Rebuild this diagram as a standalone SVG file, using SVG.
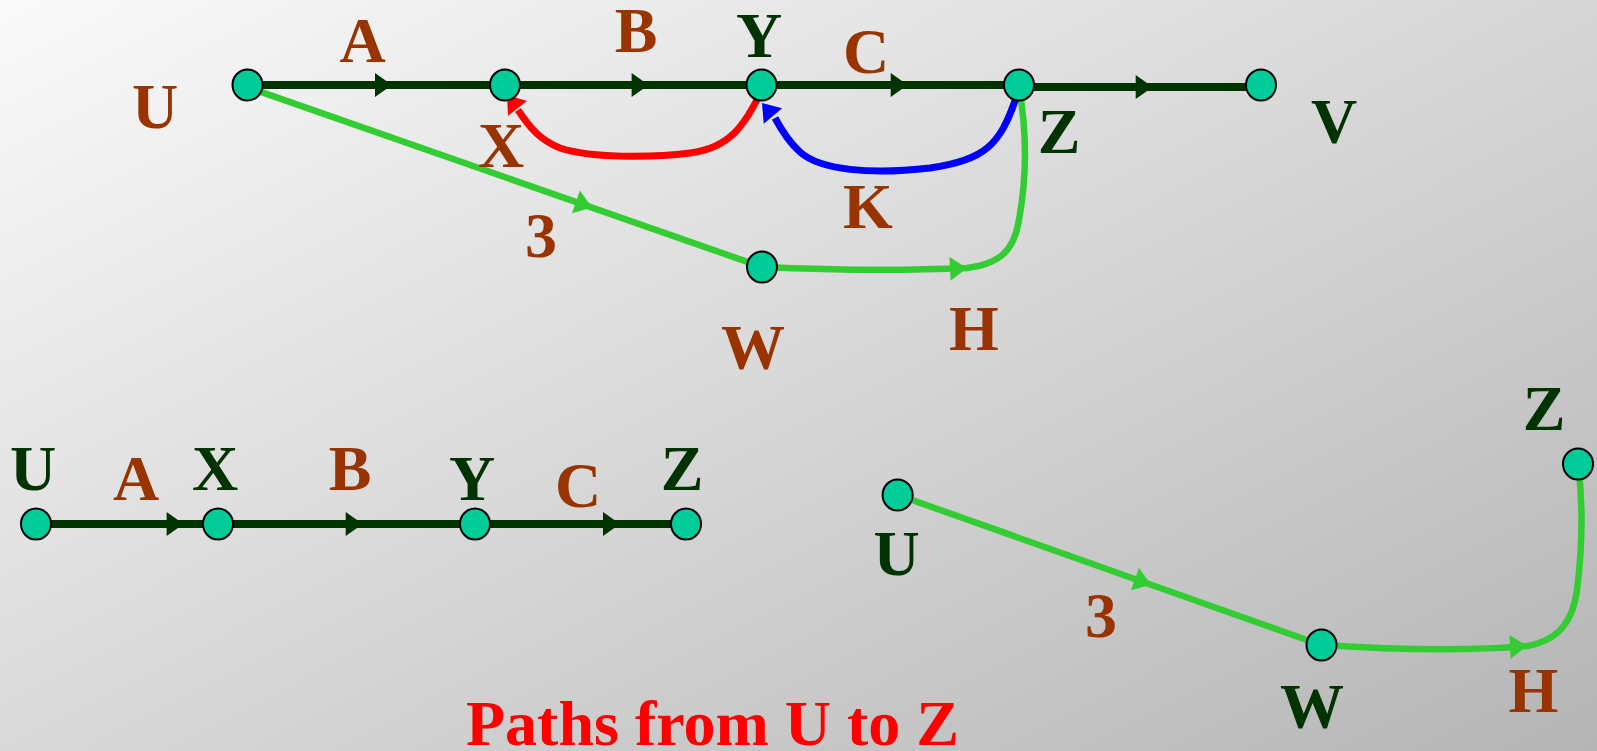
<svg xmlns="http://www.w3.org/2000/svg" width="1597" height="751" viewBox="0 0 1597 751">
<defs>
<linearGradient id="bg" gradientUnits="userSpaceOnUse" x1="0" y1="0" x2="636" y2="1243">
<stop offset="0" stop-color="#fafafa"/>
<stop offset="1" stop-color="#b5b5b5"/>
</linearGradient>
<polygon id="ah" points="-17,-12 0,0 -17,12"/>
<style>
.lbl{font-family:"Liberation Serif","Times New Roman",serif;font-weight:bold;font-size:64px;text-anchor:middle}
.br{fill:#993300}
.dg{fill:#003300}
.node{fill:#00cc99;stroke:#000;stroke-width:2}
.edk{fill:none;stroke:#003300;stroke-width:8}
.egr{fill:none;stroke:#33cc33;stroke-width:6.5}
.ered{fill:none;stroke:#ff0000;stroke-width:7}
.eblu{fill:none;stroke:#0000ff;stroke-width:7}
.adk{fill:#003300}
.agr{fill:#33cc33}
.ared{fill:#ff0000}
.ablu{fill:#0000ff}
</style>
</defs>
<rect x="0" y="0" width="1597" height="751" fill="url(#bg)"/>
<g id="connectors">
<path class="edk" d="M247,85 L1019,85"/>
<path class="edk" d="M1019,87 L1261,87"/>
<use href="#ah" class="adk" transform="translate(392,85)"/>
<use href="#ah" class="adk" transform="translate(648.6,85)"/>
<use href="#ah" class="adk" transform="translate(907.7,85)"/>
<use href="#ah" class="adk" transform="translate(1152.7,87)"/>
<path class="egr" d="M247,87 L762,267"/>
<use href="#ah" class="agr" transform="translate(592,207.5) rotate(19.3)"/>
<path class="egr" d="M762,267 C830,270 900,271 967,268 C1000,264 1013,250 1018,225 C1024,195 1030,150 1019,87"/>
<use href="#ah" class="agr" transform="translate(967,268) rotate(-3)"/>
<path class="ered" d="M762,90 C745,125 730,148 690,153 C650,158 590,158 560,148 C540,140 530,128 518,110"/>
<use href="#ah" class="ared" transform="translate(507,95) rotate(-128)"/>
<path class="eblu" d="M1016,98 C1000,145 985,160 930,168 C870,175 820,170 800,152 C790,143 783,133 775,118"/>
<use href="#ah" class="ablu" transform="translate(762,103) rotate(-130)"/>
<path class="edk" d="M36,524 L686,524"/>
<use href="#ah" class="adk" transform="translate(183.6,524)"/>
<use href="#ah" class="adk" transform="translate(362.7,524)"/>
<use href="#ah" class="adk" transform="translate(620,524)"/>
<path class="egr" d="M898,495 L1321,645"/>
<use href="#ah" class="agr" transform="translate(1151,584.7) rotate(19.5)"/>
<path class="egr" d="M1321,645 C1400,650 1470,651 1527,646 C1560,640 1573,620 1577,590 C1582,550 1584,510 1578,464"/>
<use href="#ah" class="agr" transform="translate(1527,646) rotate(-3)"/>
</g>
<g id="top-U"><ellipse class="node" cx="247.5" cy="85" rx="15" ry="15.5"/><text class="lbl br" x="155" y="128">U</text></g>
<g id="top-X"><ellipse class="node" cx="505" cy="85" rx="15" ry="15.5"/><text class="lbl br" x="501" y="167">X</text></g>
<g id="top-Y"><ellipse class="node" cx="761.5" cy="85" rx="15" ry="15.5"/><text class="lbl dg" x="759" y="57">Y</text></g>
<g id="top-Z"><ellipse class="node" cx="1019" cy="85" rx="15" ry="15.5"/><text class="lbl dg" x="1059" y="153">Z</text></g>
<g id="top-V"><ellipse class="node" cx="1261" cy="85" rx="15" ry="15.5"/><text class="lbl dg" x="1334" y="143">V</text></g>
<g id="top-W"><ellipse class="node" cx="762" cy="267" rx="15" ry="15.5"/><text class="lbl br" x="753" y="369">W</text></g>
<g id="top-edge-labels">
<text class="lbl br" x="362.6" y="62">A</text>
<text class="lbl br" x="636" y="52">B</text>
<text class="lbl br" x="866" y="73">C</text>
<text class="lbl br" x="868" y="228">K</text>
<text class="lbl br" x="541" y="257">3</text>
<text class="lbl br" x="974" y="350">H</text>
</g>
<g id="bl-U"><ellipse class="node" cx="36" cy="524" rx="15" ry="15.5"/><text class="lbl dg" x="33" y="490">U</text></g>
<g id="bl-X"><ellipse class="node" cx="218" cy="524" rx="15" ry="15.5"/><text class="lbl dg" x="215" y="490">X</text></g>
<g id="bl-Y"><ellipse class="node" cx="475" cy="524" rx="15" ry="15.5"/><text class="lbl dg" x="472" y="500">Y</text></g>
<g id="bl-Z"><ellipse class="node" cx="686" cy="524" rx="15" ry="15.5"/><text class="lbl dg" x="682" y="490">Z</text></g>
<g id="bl-edge-labels">
<text class="lbl br" x="136" y="500">A</text>
<text class="lbl br" x="350" y="490">B</text>
<text class="lbl br" x="578" y="507">C</text>
</g>
<g id="br-U"><ellipse class="node" cx="897.6" cy="495" rx="15" ry="15.5"/><text class="lbl dg" x="896.5" y="575">U</text></g>
<g id="br-W"><ellipse class="node" cx="1321.5" cy="645" rx="15" ry="15.5"/><text class="lbl dg" x="1312" y="728">W</text></g>
<g id="br-Z"><ellipse class="node" cx="1578" cy="464" rx="15" ry="15.5"/><text class="lbl dg" x="1544" y="430">Z</text></g>
<g id="br-edge-labels">
<text class="lbl br" x="1101" y="637">3</text>
<text class="lbl br" x="1533.5" y="712">H</text>
</g>
<text id="title" x="466" y="745" style="font-family:'Liberation Serif','Times New Roman',serif;font-weight:bold;font-size:64px;fill:#ff0000">Paths from U to Z</text>
</svg>
